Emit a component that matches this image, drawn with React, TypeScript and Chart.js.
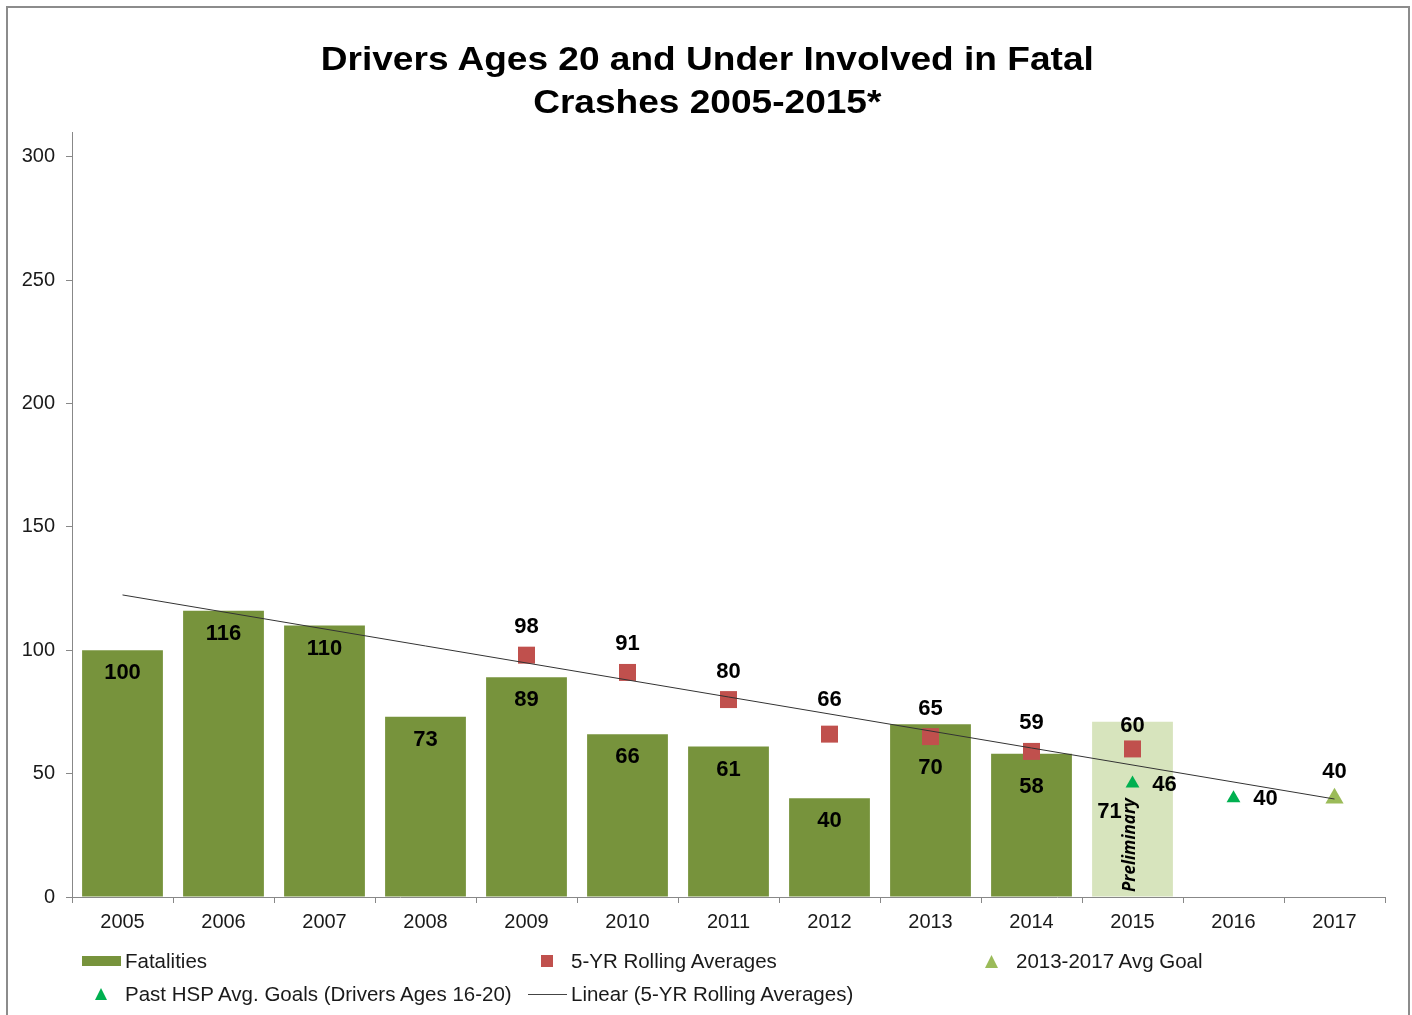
import React, { useEffect, useRef } from "react";
import { Chart, registerables } from "chart.js";

Chart.register(...registerables);

const years = ["2005", "2006", "2007", "2008", "2009", "2010", "2011", "2012", "2013", "2014", "2015", "2016", "2017"];
const fatalities = [100, 116, 110, 73, 89, 66, 61, 40, 70, 58, 71, null, null];
const rollingAverages = [null, null, null, null, 98, 91, 80, 66, 65, 59, 60, null, null];
const pastHspGoals = [null, null, null, null, null, null, null, null, null, null, 46, 40, null];
const avgGoal20132017 = [null, null, null, null, null, null, null, null, null, null, null, null, 40];
const linearTrend = [122.4, null, null, null, null, null, null, null, null, null, null, null, 39.7];
const yTickValues = [0, 50, 100, 150, 200, 250, 300];
const titleLines = ["Drivers Ages 20 and Under Involved in Fatal", "Crashes 2005-2015*"];
const preliminaryYear = "2015";
const preliminaryText = "Preliminary";

const FONT = '"Liberation Sans", Arial, sans-serif';
const BAR_GREEN = "#77933c";
const BAR_PRELIM = "#d7e4bd";
const RED = "#c0504d";
const HSP_GREEN = "#00b050";
const GOAL_GREEN = "#9bbb59";

const labelModes: Record<string, string> = {
  "Fatalities": "inside",
  "5-YR Rolling Averages": "above",
  "Past HSP Avg. Goals (Drivers Ages 16-20)": "right",
  "2013-2017 Avg Goal": "above",
};

// label placement tweaks (pixels), keyed by category index, to avoid overlaps as in the original
const insideLabelDrop: Record<number, number> = { 8: 43, 9: 32 };
const aboveLabelRise: Record<number, number> = { 7: 35, 10: 24, 12: 27 };

const valueLabelPlugin = {
  id: "valueLabels",
  afterDatasetsDraw(chart: any) {
    const ctx = chart.ctx;
    const yScale = chart.scales.y;
    const prelimIndex = years.indexOf(preliminaryYear);
    ctx.save();
    ctx.fillStyle = "#000";
    ctx.font = `bold 22px ${FONT}`;
    ctx.textAlign = "center";
    ctx.textBaseline = "middle";
    chart.data.datasets.forEach((ds: any, i: number) => {
      const mode = labelModes[ds.label];
      if (!mode) return;
      const meta = chart.getDatasetMeta(i);
      meta.data.forEach((el: any, j: number) => {
        const v = ds.data[j];
        if (v == null) return;
        let x = el.x;
        let y = el.y;
        if (mode === "inside") {
          if (j === prelimIndex) {
            x -= 23;
            y = yScale.getPixelForValue(0) - 86;
          } else {
            y += insideLabelDrop[j] ?? 22;
          }
        } else if (mode === "above") {
          y -= aboveLabelRise[j] ?? 29;
        } else if (mode === "right") {
          x += 32;
        }
        ctx.fillText(String(v), x, y + 1);
      });
    });
    // Preliminary rotated note
    const barEl = chart.getDatasetMeta(0).data[prelimIndex];
    if (barEl) {
      ctx.translate(barEl.x - 2, yScale.getPixelForValue(0) - 5);
      ctx.rotate(-Math.PI / 2);
      ctx.font = `italic bold 17px "Open Sans", sans-serif`;
      ctx.textAlign = "left";
      ctx.textBaseline = "middle";
      ctx.fillText(preliminaryText, 0, 0);
    }
    ctx.restore();
  },
};

function TriangleIcon({ color, size }: { color: string; size: number }) {
  return (
    <svg width={size} height={size} style={{ display: "block" }}>
      <polygon points={`${size / 2},0 ${size},${size} 0,${size}`} fill={color} />
    </svg>
  );
}

export default function App() {
  const canvasRef = useRef<HTMLCanvasElement | null>(null);

  useEffect(() => {
    if (!canvasRef.current) return;
    const prelimIndex = years.indexOf(preliminaryYear);
    const chart = new Chart(canvasRef.current, {
      type: "bar",
      data: {
        labels: years,
        datasets: [
          {
            type: "line",
            label: "Linear (5-YR Rolling Averages)",
            data: linearTrend,
            borderColor: "#333333",
            borderWidth: 1,
            pointRadius: 0,
            spanGaps: true,
            fill: false,
            order: 1,
          } as any,
          {
            type: "line",
            label: "Past HSP Avg. Goals (Drivers Ages 16-20)",
            data: pastHspGoals,
            showLine: false,
            pointStyle: "triangle",
            pointRadius: 8,
            pointBackgroundColor: HSP_GREEN,
            pointBorderColor: HSP_GREEN,
            pointBorderWidth: 0,
            order: 2,
          },
          {
            type: "line",
            label: "2013-2017 Avg Goal",
            data: avgGoal20132017,
            showLine: false,
            pointStyle: "triangle",
            pointRadius: 10.5,
            pointBackgroundColor: GOAL_GREEN,
            pointBorderColor: GOAL_GREEN,
            pointBorderWidth: 0,
            order: 2,
          },
          {
            type: "line",
            label: "5-YR Rolling Averages",
            data: rollingAverages,
            showLine: false,
            pointStyle: "rect",
            pointRadius: 12,
            pointBackgroundColor: RED,
            pointBorderColor: RED,
            pointBorderWidth: 0,
            order: 3,
          },
          {
            type: "bar",
            label: "Fatalities",
            data: fatalities,
            backgroundColor: years.map((_, i) => (i === prelimIndex ? BAR_PRELIM : BAR_GREEN)),
            barPercentage: 0.8,
            categoryPercentage: 1,
            order: 5,
          },
        ],
      },
      options: {
        responsive: false,
        animation: false,
        devicePixelRatio: 1,
        layout: { padding: { left: 0, right: 27, top: 132, bottom: 78 } },
        plugins: {
          legend: { display: false },
          title: { display: false },
          tooltip: { enabled: false },
        },
        scales: {
          x: {
            offset: true,
            grid: {
              offset: true,
              drawOnChartArea: false,
              drawTicks: true,
              tickLength: 6,
              color: "#888888",
            },
            border: { color: "#888888", width: 1 },
            ticks: {
              color: "#1a1a1a",
              font: { family: FONT, size: 20 },
              padding: 7,
            },
            afterFit: (scale: any) => {
              scale.height = 40;
            },
          },
          y: {
            min: 0,
            max: 310,
            grid: {
              drawOnChartArea: false,
              drawTicks: true,
              tickLength: 6,
              color: "#888888",
            },
            border: { color: "#888888", width: 1 },
            ticks: {
              color: "#1a1a1a",
              font: { family: FONT, size: 20 },
              padding: 11,
            },
            afterBuildTicks: (scale: any) => {
              scale.ticks = yTickValues.map((v) => ({ value: v }));
            },
            afterFit: (scale: any) => {
              scale.width = 72;
            },
          },
        },
      },
      plugins: [valueLabelPlugin],
    });
    return () => chart.destroy();
  }, []);

  const legendText: React.CSSProperties = {
    position: "absolute",
    fontFamily: FONT,
    fontSize: 20.5,
    color: "#1a1a1a",
    lineHeight: "22px",
    whiteSpace: "nowrap",
  };

  return (
    <div style={{ position: "fixed", left: 0, top: 0, width: 1412, height: 1015, background: "#fff", overflow: "hidden" }}>
      <canvas ref={canvasRef} width={1412} height={1015} style={{ position: "absolute", left: 0, top: 0 }} />
      <div
        style={{
          position: "absolute",
          left: 6,
          top: 6,
          width: 1400,
          height: 1030,
          border: "2px solid #8c8c8c",
          pointerEvents: "none",
        }}
      />
      <div
        style={{
          position: "absolute",
          left: 8,
          width: 1400,
          top: 37,
          textAlign: "center",
          fontFamily: FONT,
          fontWeight: "bold",
          fontSize: 34,
          lineHeight: "43px",
          color: "#000",
          transform: "scaleX(1.09)",
          transformOrigin: "708px 0",
        }}
      >
        {titleLines.map((t) => (
          <div key={t}>{t}</div>
        ))}
      </div>
      {/* Legend row 1 */}
      <div style={{ position: "absolute", left: 82, top: 956, width: 39, height: 10, background: BAR_GREEN }} />
      <div style={{ ...legendText, left: 125, top: 950 }}>Fatalities</div>
      <div style={{ position: "absolute", left: 541, top: 955, width: 12, height: 12, background: RED }} />
      <div style={{ ...legendText, left: 571, top: 950 }}>5-YR Rolling Averages</div>
      <div style={{ position: "absolute", left: 985, top: 955 }}>
        <TriangleIcon color={GOAL_GREEN} size={13} />
      </div>
      <div style={{ ...legendText, left: 1016, top: 950 }}>2013-2017 Avg Goal</div>
      {/* Legend row 2 */}
      <div style={{ position: "absolute", left: 95, top: 988 }}>
        <TriangleIcon color={HSP_GREEN} size={12} />
      </div>
      <div style={{ ...legendText, left: 125, top: 983 }}>Past HSP Avg. Goals (Drivers Ages 16-20)</div>
      <div style={{ position: "absolute", left: 528, top: 994, width: 39, height: 1, background: "#444" }} />
      <div style={{ ...legendText, left: 571, top: 983 }}>Linear (5-YR Rolling Averages)</div>
    </div>
  );
}
